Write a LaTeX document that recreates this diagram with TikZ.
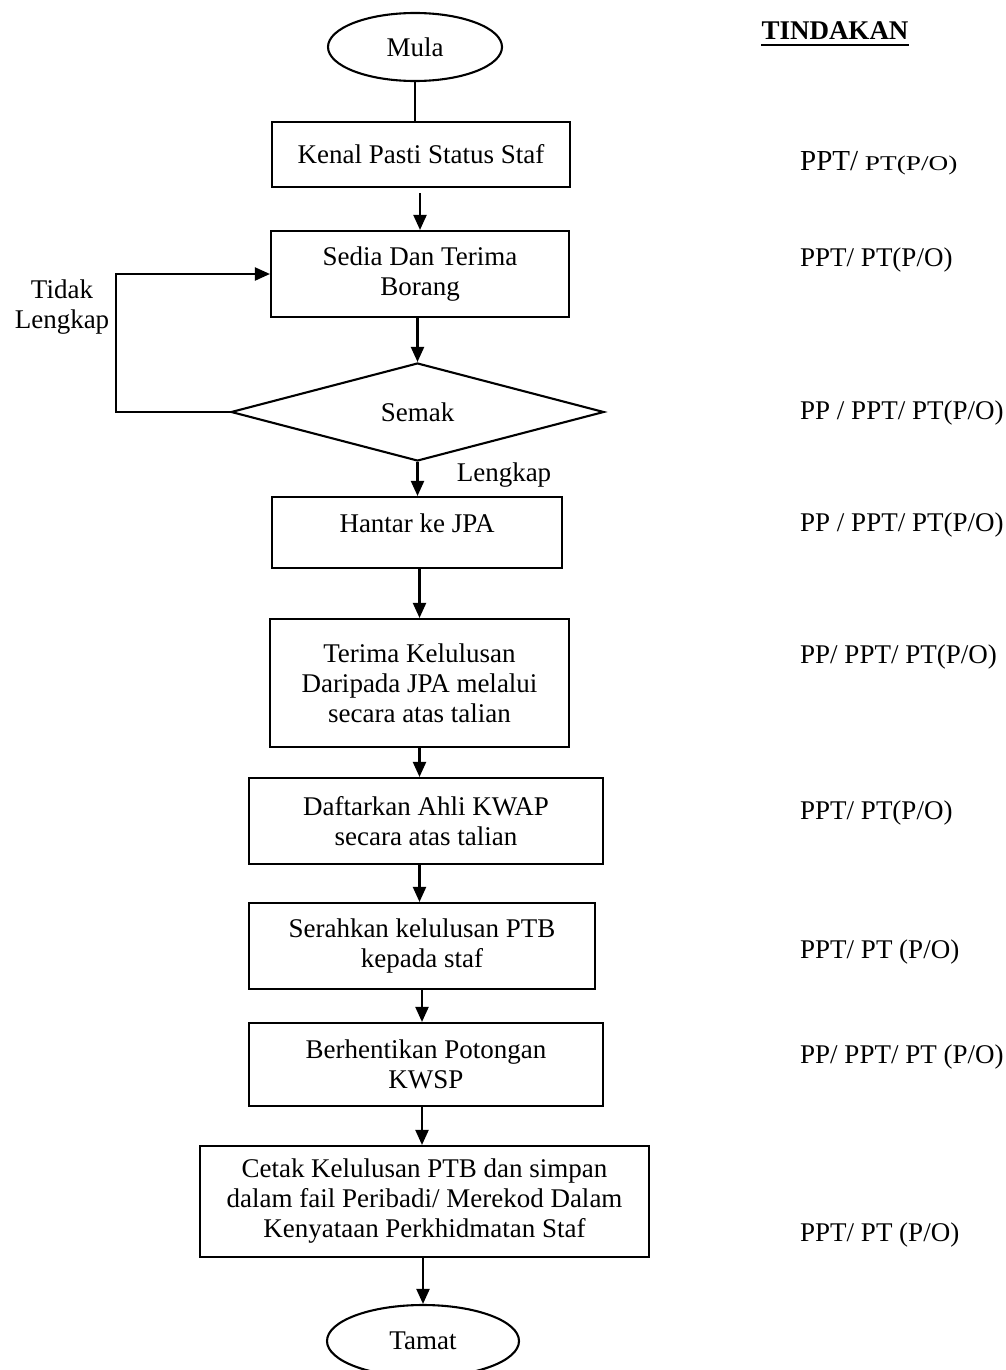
\documentclass[tikz,border=0pt]{standalone}
\usepackage{fontspec}
\setmainfont{Liberation Serif}
\usepackage{graphicx}
\usetikzlibrary{shapes.geometric,arrows.meta}
\begin{document}
\begin{tikzpicture}[x=1pt,y=-1pt,
  every node/.style={font=\fontsize{27}{30}\selectfont, inner sep=0pt},
  box/.style={draw, line width=2.1pt, rectangle, align=center},
  term/.style={draw, line width=2.1pt, ellipse},
  decide/.style={draw, line width=2.1pt, diamond, aspect=3.8},
  arr/.style={line width=2.1pt, -{Triangle[length=15pt,width=13pt]}},
  conn/.style={line width=2.1pt},
  lbl/.style={align=center},
  act/.style={anchor=west}]
\useasboundingbox (0,0) rectangle (1005,1370);

% flow
\node[term, minimum width=174pt, minimum height=68pt] (mula) at (415,47) {Mula};
\node[box, minimum width=298pt, minimum height=65pt] (kenal) at (421,154.5) {Kenal Pasti Status Staf};
\node[box, minimum width=298pt, minimum height=86pt] (sedia) at (420,274) {Sedia Dan Terima\\Borang};
\node[decide, minimum width=373pt, minimum height=98pt] (semak) at (417.5,412) {Semak};
\node[box, minimum width=290pt, minimum height=71pt, text height=18pt, text depth=19pt] (hantar) at (417,532.5) {Hantar ke JPA};
\node[box, minimum width=299pt, minimum height=128pt] (terima) at (419.5,683) {Terima Kelulusan\\Daripada JPA melalui\\secara atas talian};
\node[box, minimum width=354pt, minimum height=86pt] (daftar) at (426,821) {Daftarkan Ahli KWAP\\secara atas talian};
\node[box, minimum width=346pt, minimum height=86pt] (serah) at (422,946) {Serahkan kelulusan PTB\\kepada staf};
\node[box, minimum width=354pt, minimum height=83pt] (henti) at (426,1064.5) {Berhentikan Potongan\\KWSP};
\node[box, minimum width=449pt, minimum height=111pt] (cetak) at (424.5,1201.5) {Cetak Kelulusan PTB dan simpan\\dalam fail Peribadi/ Merekod Dalam\\Kenyataan Perkhidmatan Staf};
\node[term, minimum width=192pt, minimum height=72pt] (tamat) at (423,1341) {Tamat};

% connectors
\draw[conn] (mula.south) -- (mula.south |- kenal.north);
\draw[arr] ([yshift=-5pt]kenal.south -| sedia.north) -- (sedia.north);
\draw[arr] (sedia.south -| semak.north) -- (semak.north);
\draw[arr] (semak.south) -- (semak.south |- hantar.north);
\draw[arr] (hantar.south -| terima.north) -- (terima.north);
\draw[arr] (terima.south) -- (terima.south |- daftar.north);
\draw[arr] (daftar.south -| terima.south) -- (terima.south |- serah.north);
\draw[arr] (serah.south) -- (serah.south |- henti.north);
\draw[arr] (henti.south -| serah.south) -- (serah.south |- cetak.north);
\draw[arr] (cetak.south -| tamat.north) -- (tamat.north);
\draw[arr] (semak.west) -- ++(-114,0) |- (sedia.west);

% labels
\node[lbl] (tidak) at (62,307) {Tidak\\Lengkap};
\node (lengkap) at (504,475) {Lengkap};

% action column
\node[font=\fontsize{27}{30}\selectfont\bfseries] (tind) at (835,31) {TINDAKAN};
\draw[line width=2.6pt] ([yshift=-5pt]tind.base west) -- ([yshift=-5pt]tind.base east);
\node[act] (t1) at (800,163) {{\fontsize{29}{33}\selectfont PPT/} \scalebox{1.3}[1]{\fontsize{21}{25}\selectfont PT(P/O)}};
\node[act] (t2) at (800,260) {PPT/ PT(P/O)};
\node[act] (t3) at (800,413) {PP / PPT/ PT(P/O)};
\node[act] (t4) at (800,525) {PP / PPT/ PT(P/O)};
\node[act] (t5) at (800,657) {PP/ PPT/ PT(P/O)};
\node[act] (t6) at (800,813) {PPT/ PT(P/O)};
\node[act] (t7) at (800,952) {PPT/ PT (P/O)};
\node[act] (t8) at (800,1057) {PP/ PPT/ PT (P/O)};
\node[act] (t9) at (800,1235) {PPT/ PT (P/O)};
\end{tikzpicture}
\end{document}
